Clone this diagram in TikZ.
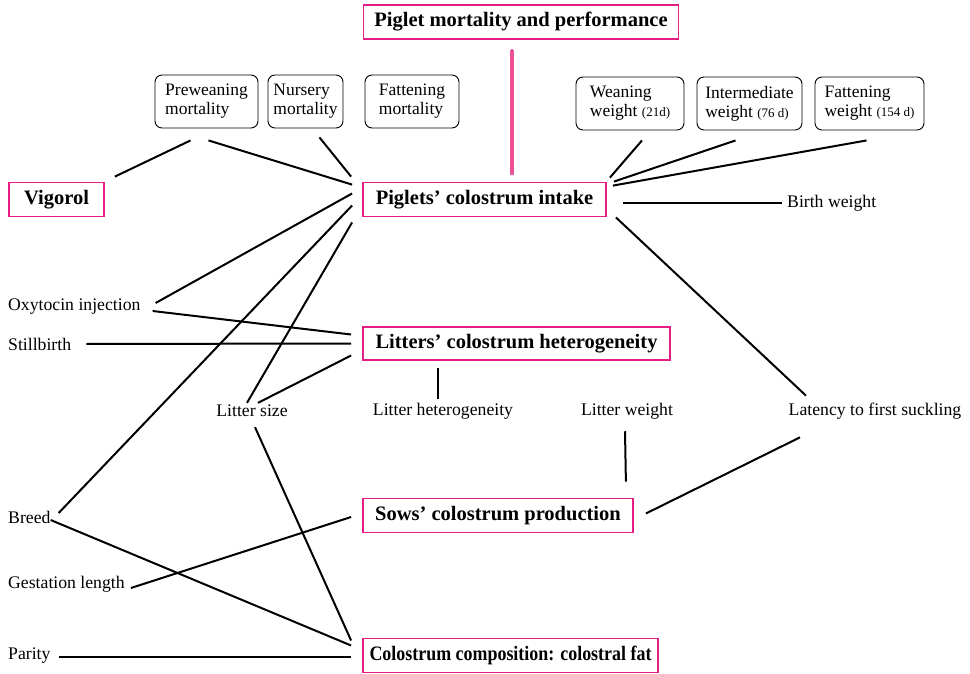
\documentclass[tikz,border=0pt]{standalone}
\usepackage{fontspec}
\usepackage{graphicx}
\setmainfont{Liberation Serif}
\usetikzlibrary{calc}
\definecolor{pinkc}{RGB}{228,30,132}
\definecolor{pinkl}{RGB}{236,80,150}
\newcommand\smallpar{\fontsize{13}{15}\selectfont}
\tikzset{
  keybox/.style={draw=pinkc, line width=1.8pt, inner sep=0pt, font=\fontsize{20.5}{22}\selectfont\bfseries, minimum height=#1},
  keybox/.default=34pt,
  roundbox/.style={draw, line width=0.9pt, rounded corners=7pt, inner sep=0pt, align=left, font=\fontsize{17.5}{19}\selectfont, minimum height=53pt},
  lbl/.style={inner sep=0pt, font=\fontsize{17.7}{19}\selectfont},
  conn/.style={line width=2pt}
}
\begin{document}
\begin{tikzpicture}[x=1pt,y=-1pt]
\useasboundingbox (0,0) rectangle (970,674);
% key boxes
\node[keybox, minimum width=315pt] (top) at (521,22) {Piglet mortality and performance};
\node[keybox, minimum width=95pt] (vig) at (56.5,199.5) {Vigorol};
\node[keybox, minimum width=243pt] (intake) at (484.5,199.5) {Piglets’ colostrum intake};
\node[keybox=33pt, minimum width=307pt] (het) at (516.5,343.5) {Litters’ colostrum heterogeneity};
\node[keybox, minimum width=270pt] (sows) at (498,515.5) {Sows’ colostrum production};
\node[keybox, minimum width=295pt] (fat) at (510.5,655.5) {\scalebox{0.875}[1]{Colostrum composition: colostral fat}};
% rounded boxes
\node[roundbox, minimum width=103pt] (pre) at (206.5,101.5) {Preweaning\\mortality};
\node[roundbox, minimum width=75pt] (nur) at (305.5,101.5) {Nursery\\mortality};
\node[roundbox, minimum width=94pt] (fatm) at (412,101.5) {Fattening\\mortality};
\node[roundbox, minimum width=108pt] (wean) at (630,103.5) {Weaning\\weight {\smallpar(21d)}};
\node[roundbox, minimum width=105pt] (inter) at (749.5,103.5) {Intermediate\\weight {\smallpar(76 d)}};
\node[roundbox, minimum width=109pt] (fatw) at (869.5,103.5) {Fattening\\weight {\smallpar(154 d)}};
% plain labels
\node[lbl, anchor=west] (oxy) at (8,307) {Oxytocin injection};
\node[lbl, anchor=west] (still) at (8,344) {Stillbirth};
\node[lbl, anchor=west] (breed) at (8,517) {Breed};
\node[lbl, anchor=west] (gest) at (8,584) {Gestation length};
\node[lbl, anchor=west] (parity) at (8,656) {Parity};
\node[lbl, anchor=west] (birth) at (787,203) {Birth weight};
\node[lbl] (ls) at (252,411) {Litter size};
\node[lbl] (lh) at (443,411) {Litter heterogeneity};
\node[lbl] (lw) at (627,411) {Litter weight};
\node[lbl] (lat) at (875,411) {Latency to first suckling};
% connectors
\draw[pinkl, line width=3.5pt, line cap=round] ($(top.south)+(-9,11)$) -- ($(intake.north)+(27.5,-8)$);
\draw[conn] ($(pre.south)+(-16,12)$) -- ($(vig.north east)+(10,-5)$);
\draw[conn] ($(pre.south)+(2,12)$) -- ($(intake.north west)+(-10,3)$);
\draw[conn] ($(nur.south)+(14,9)$) -- ($(intake.north west)+(-11,-5)$);
\draw[conn] ($(wean.south)+(12,10)$) -- ($(intake.north east)+(3,-4)$);
\draw[conn] ($(inter.south)+(-14,10)$) -- ($(intake.north east)+(7,0)$);
\draw[conn] ($(fatw.south)+(-3,10)$) -- ($(intake.north east)+(6,4)$);
\draw[conn] ($(intake.east)+(16,3.5)$) -- ($(birth.west)+(-5,0)$);
\draw[conn] ($(intake.south east)+(9,0)$) -- ($(lat.north)+(-69,-7)$);
\draw[conn] ($(intake.west)+(-10,-6)$) -- ($(oxy.east)+(15,-4)$);
\draw[conn] ($(intake.west)+(-10,6)$) -- ($(breed.east)+(8,-4)$);
\draw[conn] ($(intake.south west)+(-10,5)$) -- ($(ls.north)+(-5,-2)$);
\draw[conn] ($(ls.north)+(6,-2)$) -- ($(het.west)+(-11,12)$);
\draw[conn] ($(oxy.east)+(12,4)$) -- ($(het.west)+(-11,-9)$);
\draw[conn] ($(still.east)+(15,0)$) -- ($(het.west)+(-11,0)$);
\draw[conn] ($(het.south)+(-78.5,7)$) -- ($(lh.north)+(-5,-4)$);
\draw[conn] ($(lw.south)+(-2,12)$) -- ($(sows.north east)+(-8,-16)$);
\draw[conn] ($(sows.east)+(12,-2)$) -- ($(lat.south)+(-75,18)$);
\draw[conn] ($(ls.south)+(3,10)$) -- ($(fat.west)+(-11,-15)$);
\draw[conn] ($(breed.east)+(0,3)$) -- ($(fat.west)+(-11,-10)$);
\draw[conn] ($(gest.east)+(6,4)$) -- ($(sows.west)+(-11,1.5)$);
\draw[conn] ($(parity.east)+(8,1)$) -- ($(fat.west)+(-11,1.5)$);
\end{tikzpicture}
\end{document}
